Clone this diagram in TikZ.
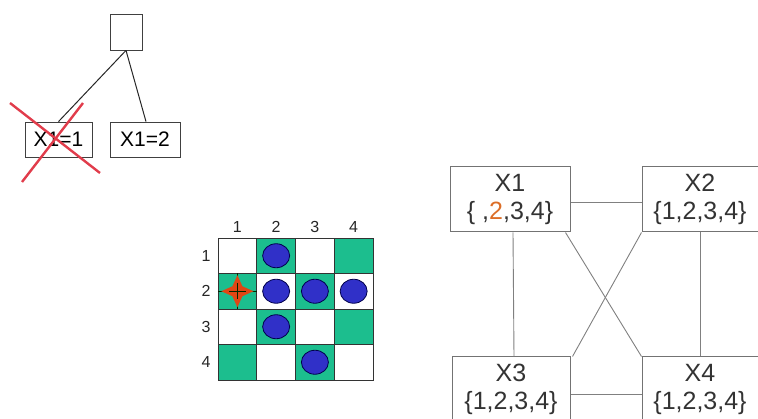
\documentclass[tikz,border=0pt]{standalone}
\usepackage{fontspec}
\setmainfont{Liberation Sans}
\begin{document}
\begin{tikzpicture}[x=1pt,y=-1pt,
  treebox/.style={draw=black!75,line width=0.8pt,inner sep=0pt,font=\fontsize{21}{24}\selectfont},
  treeline/.style={draw=black!85,line width=1pt},
  gbox/.style={draw=black!55,line width=1pt,inner sep=0pt,align=center,font=\fontsize{25}{28}\selectfont,text=black!80},
  gline/.style={draw=black!50,line width=0.9pt},
  cellgreen/.style={fill=cgreen,draw=black!80,line width=0.8pt},
  cellwhite/.style={fill=white,draw=black!80,line width=0.8pt},
  queen/.style={fill=qblue,draw=black!70!blue,line width=0.8pt},
  lbl/.style={font=\fontsize{16}{18}\selectfont,text=black!85},
  redx/.style={draw=xred,line width=2.4pt}
]
\definecolor{cgreen}{RGB}{28,190,142}
\definecolor{qblue}{RGB}{48,48,200}
\definecolor{xred}{RGB}{225,60,75}
\definecolor{sorange}{RGB}{225,70,20}
\definecolor{torange}{RGB}{220,110,40}
\useasboundingbox (0,0) rectangle (758,419);
\clip (0,0) rectangle (758,419);

% ---- search tree ----
\node[treebox,minimum width=32,minimum height=36] (root) at (126,32) {};
\node[treebox,minimum width=67,minimum height=35] (c1) at (58.5,139.5) {X1=1};
\node[treebox,minimum width=70,minimum height=35] (c2) at (145,139.5) {X1=2};
\draw[treeline] (root.south) -- (c1.north);
\draw[treeline] (root.south) -- ([xshift=1]c2.north);
\coordinate (xa1) at (10,103);
\coordinate (xa2) at (100,173);
\coordinate (xb1) at (83,103);
\coordinate (xb2) at (22,182);
\draw[redx] (xa1) -- (xa2);
\draw[redx] (xb1) -- (xb2);

% ---- 4x4 board ----
\foreach \r in {1,...,4}{
  \foreach \c in {1,...,4}{
    \pgfmathtruncatemacro{\cpar}{mod(\r+\c,2)}
    \pgfmathsetmacro{\xa}{218+(\c-1)*38.75}
    \pgfmathsetmacro{\ya}{238+(\r-1)*35.5}
    \ifnum\cpar=1
      \path[cellgreen] (\xa,\ya) rectangle ++(38.75,35.5);
    \else
      \path[cellwhite] (\xa,\ya) rectangle ++(38.75,35.5);
    \fi
  }
  \node[lbl] (col\r) at ({237.4+(\r-1)*38.75},227) {\r};
  \node[lbl] (row\r) at (206,{255.75+(\r-1)*35.5}) {\r};
}
% queens
\foreach \r/\c in {1/2,2/2,2/3,2/4,3/2,4/3}{
  \path[queen] ({237.4+(\c-1)*38.75},{255.75+(\r-1)*35.5}) ellipse (13.5 and 12);
}
% star at row 2, col 1
\coordinate (st) at (237.4,291.25);
\draw[black!60!green!40!black,line width=0.8pt] (218,291.25) -- (256.75,291.25);
\draw[black!60!green!40!black,line width=0.8pt] (237.4,273.5) -- (237.4,309);
\fill[sorange] (st) ++(-16,0) -- ++(11,-5) -- ++(5,-11) -- ++(5,11) -- ++(11,5)
  -- ++(-11,5) -- ++(-5,11) -- ++(-5,-11) -- cycle;
\draw[black!60!green!40!black,line width=0.5pt] (229,291.25) -- (246,291.25);
\draw[black!60!green!40!black,line width=0.5pt] (237.4,283) -- (237.4,299);

% ---- constraint graph ----
\node[gbox,minimum width=120,minimum height=65] (X1) at (510,199.5) {X1\\{\{}\ ,\textcolor{torange}{2},3,4\}};
\node[gbox,minimum width=116,minimum height=65] (X2) at (700,199.5) {X2\\\{1,2,3,4\}};
\node[gbox,minimum width=118,minimum height=65] (X3) at (511,389.5) {X3\\\{1,2,3,4\}};
\node[gbox,minimum width=116,minimum height=65] (X4) at (700,389.5) {X4\\\{1,2,3,4\}};
\draw[gline] ([yshift=-2.5]X1.east) -- ([yshift=-2.5]X2.west);
\draw[gline] ([xshift=3]X1.south) -- ([xshift=3]X3.north);
\draw[gline] (X2.south) -- (X4.north);
\draw[gline] ([yshift=-4.5]X3.east) -- ([yshift=-4.5]X4.west);
\draw[gline] ([xshift=-5]X1.south east) -- (X4.north west);
\draw[gline] (X2.south west) -- ([xshift=2]X3.north east);
\end{tikzpicture}
\end{document}
